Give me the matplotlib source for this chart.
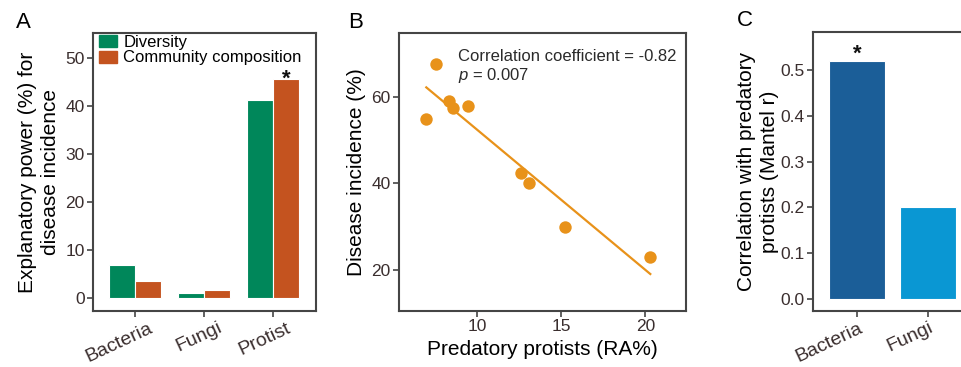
import numpy as np
import matplotlib
matplotlib.use("Agg")
import matplotlib.pyplot as plt
import matplotlib.transforms as mtransforms
from matplotlib.patches import Patch

plt.rcParams['font.family'] = ['Liberation Sans', 'DejaVu Sans']
plt.rcParams['mathtext.fontset'] = 'custom'
plt.rcParams['mathtext.rm'] = 'Liberation Sans'
plt.rcParams['mathtext.it'] = 'Liberation Sans:italic'

# panel A
groups = ["Bacteria", "Fungi", "Protist"]
diversity = [6.8, 1.1, 41.2]
composition = [3.5, 1.6, 45.7]

# panel B
protists_ra = [7.0, 7.6, 8.35, 8.6, 9.45, 12.6, 13.1, 15.25, 20.3]
disease_inc = [55.0, 67.6, 59.0, 57.5, 58.0, 42.5, 40.0, 30.0, 23.0]

# panel C
c_groups = ["Bacteria", "Fungi"]
mantel_r = [0.52, 0.20]

GREEN = "#00875A"
ORANGE = "#C4531F"
SCAT = "#E8921A"
DBLUE = "#1B5E98"
LBLUE = "#0A97D3"
TICKC = "#3a2e2e"
SPINE = "#454545"

fig = plt.figure(figsize=(9.61, 3.67), dpi=100)
axA = fig.add_axes([0.0968, 0.1526, 0.232, 0.7575])
axB = fig.add_axes([0.4152, 0.1526, 0.2983, 0.7575])
axC = fig.add_axes([0.846, 0.1526, 0.1654, 0.7602])

def style(ax):
    for s in ax.spines.values():
        s.set_color(SPINE)
        s.set_linewidth(1.5)
    ax.tick_params(direction="out", length=4, width=1.2, color=SPINE,
                   labelsize=12.5, labelcolor=TICKC, pad=2)

# ---- A
x = np.arange(len(groups))
w = 0.38
axA.bar(x - w/2, diversity, w, color=GREEN, edgecolor="white", linewidth=0.8)
axA.bar(x + w/2, composition, w, color=ORANGE, edgecolor="white", linewidth=0.8)
axA.text(x[2] + w/2, composition[2] - 1.3, "*", ha="center", va="baseline",
         fontsize=16, fontweight="bold", color="#111111")
axA.set_xlim(-0.61, 2.62)
axA.set_ylim(-2.7, 55.2)
axA.set_yticks([0, 10, 20, 30, 40, 50])
axA.set_xticks(x)
axA.set_xticklabels(groups, rotation=25, ha="right", va="top", rotation_mode="anchor")
axA.set_ylabel("Explanatory power (%) for\ndisease incidence", fontsize=15, labelpad=4,
               linespacing=1.25)
style(axA)
axA.tick_params(axis="x", labelsize=14)
off = mtransforms.ScaledTranslation(13/100, 0, fig.dpi_scale_trans)
for lab in axA.get_xticklabels():
    lab.set_transform(lab.get_transform() + off)
axA.legend(handles=[Patch(color=GREEN, label="Diversity"),
                    Patch(color=ORANGE, label="Community composition")],
           loc="upper left", bbox_to_anchor=(0.02, 1.0), frameon=False, fontsize=12,
           handlelength=1.1, handleheight=0.72, handletextpad=0.35,
           labelspacing=0.05, borderpad=0.1, borderaxespad=0.0)

# ---- B
axB.scatter(protists_ra, disease_inc, s=80, color=SCAT, zorder=3, linewidths=0)
k, b0 = np.polyfit(protists_ra, disease_inc, 1)
xx = np.array([min(protists_ra), max(protists_ra)])
axB.plot(xx, k*xx + b0, color=SCAT, lw=1.6)
axB.set_xlim(5.38, 22.4)
axB.set_ylim(10.5, 74.8)
axB.set_xticks([10, 15, 20])
axB.set_yticks([20, 40, 60])
axB.set_xlabel("Predatory protists (RA%)", fontsize=15)
axB.set_ylabel("Disease incidence (%)", fontsize=15, labelpad=4)
axB.text(0.206, 0.899, "Correlation coefficient = -0.82", transform=axB.transAxes,
         fontsize=12, color="#2a2a2a", va="baseline")
axB.text(0.206, 0.831, "$p$ = 0.007", transform=axB.transAxes,
         fontsize=12, color="#2a2a2a", va="baseline")
style(axB)

# ---- C
xc = np.arange(len(c_groups))
axC.bar(xc, mantel_r, 0.78, color=[DBLUE, LBLUE], edgecolor="white", linewidth=0.8)
axC.text(xc[0], mantel_r[0] + 0.003, "*", ha="center", va="baseline",
         fontsize=16, fontweight="bold", color="#111111")
axC.set_xlim(-0.62, 1.62)
axC.set_ylim(-0.026, 0.583)
axC.set_yticks([0.0, 0.1, 0.2, 0.3, 0.4, 0.5])
axC.set_yticklabels(["0.0", "0.1", "0.2", "0.3", "0.4", "0.5"])
axC.set_xticks(xc)
axC.set_xticklabels(c_groups, rotation=25, ha="right", va="top", rotation_mode="anchor")
axC.set_ylabel("Correlation with predatory\nprotists (Mantel r)", fontsize=15, labelpad=1,
               linespacing=1.3)
style(axC)
axC.tick_params(axis="x", labelsize=14)
off2 = mtransforms.ScaledTranslation(1/100, 0, fig.dpi_scale_trans)
for lab in axC.get_xticklabels():
    lab.set_transform(lab.get_transform() + off2)

fig.text(16/961, 1 - 23/367, "A", fontsize=16, ha="left", va="center")
fig.text(348/961, 1 - 22/367, "B", fontsize=16, ha="left", va="center")
fig.text(737/961, 1 - 21/367, "C", fontsize=16, ha="left", va="center")

fig.savefig("out.png", dpi=100)
